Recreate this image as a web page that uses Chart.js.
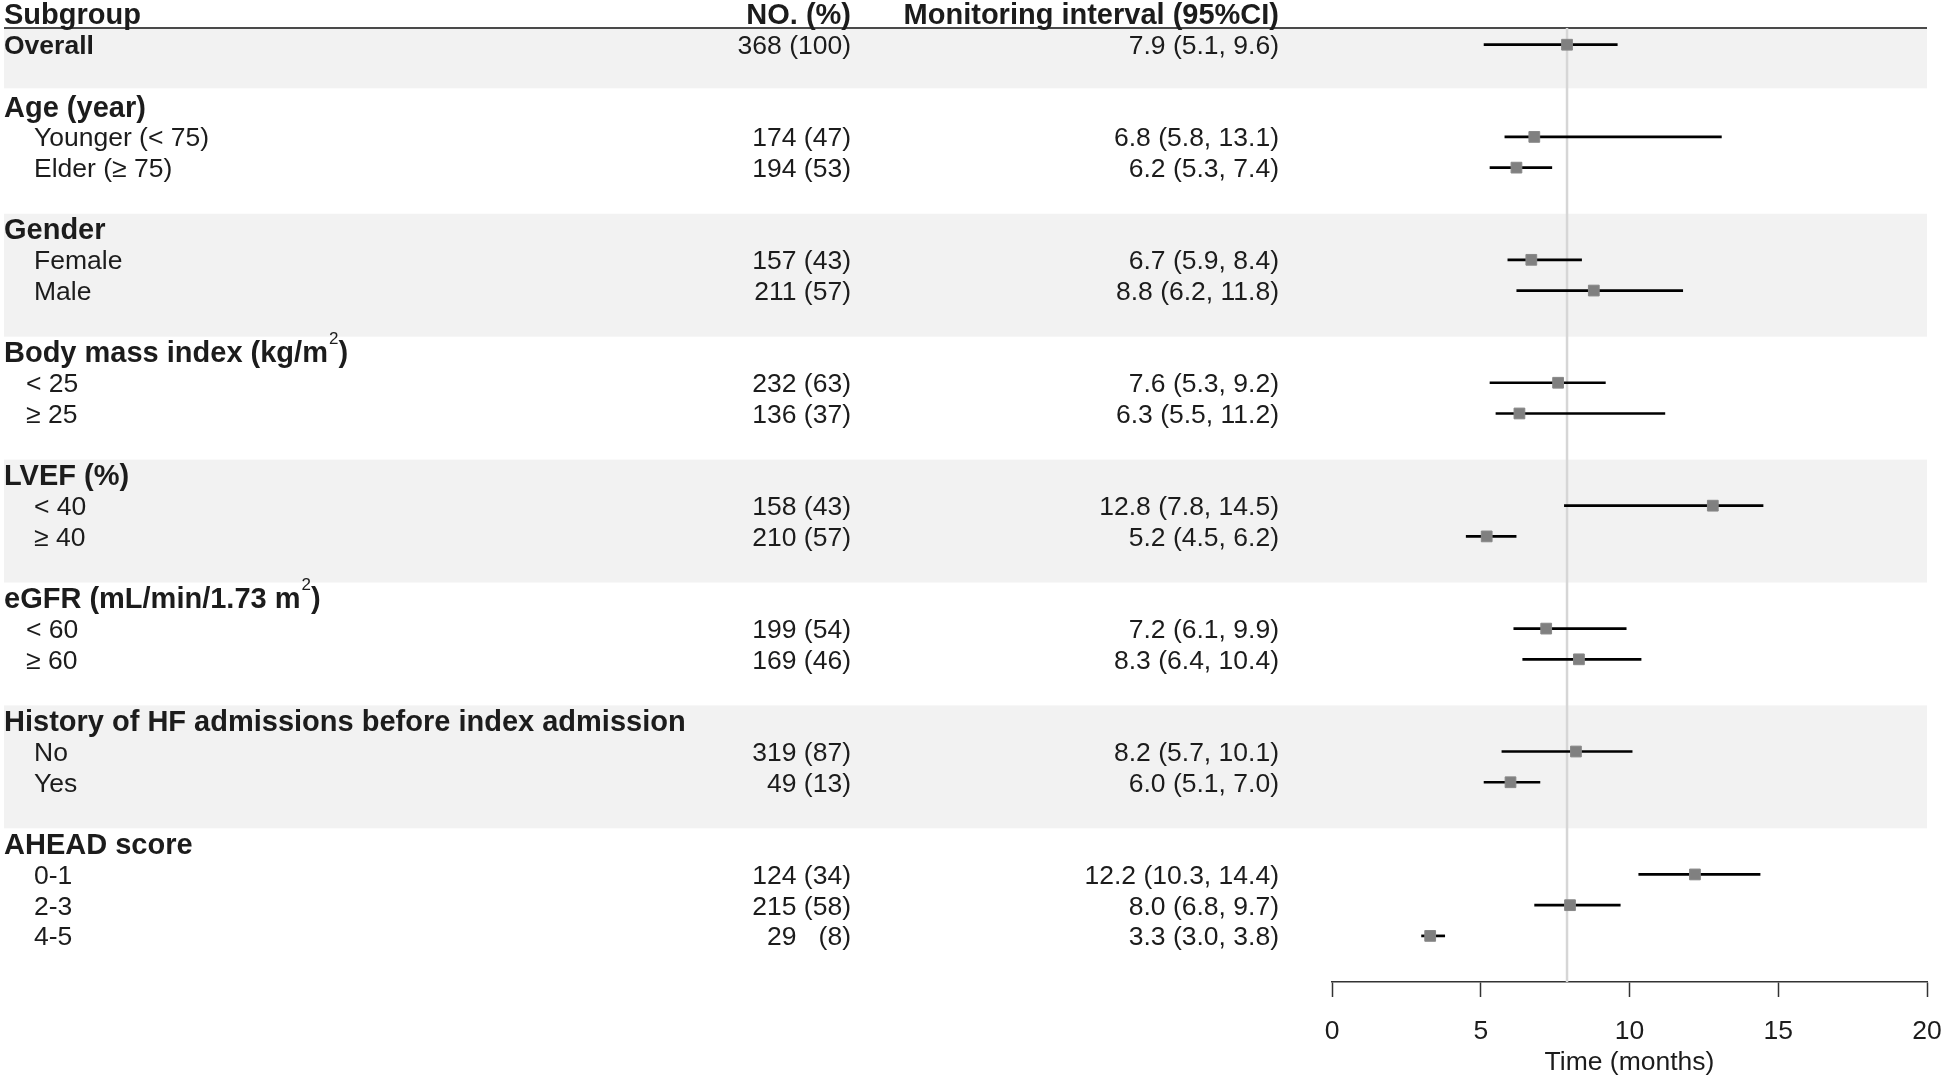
<!DOCTYPE html>
<html>
<head>
<meta charset="utf-8">
<title>Monitoring interval by subgroup</title>
<script src="https://cdn.jsdelivr.net/npm/chart.js@4.4.1/dist/chart.umd.min.js"></script>
<style>
  html, body { margin: 0; padding: 0; background: #fff; }
  #wrap { width: 1946px; height: 1080px; }
</style>
</head>
<body>
<div id="wrap"><canvas id="forest" width="1946" height="1080"></canvas></div>
<script>
// table structure: each entry sits on one row of the y scale (0 = column headers)
const columnHeaders = ['Subgroup', 'NO. (%)', 'Monitoring interval (95%CI)'];

const groupTitles = ['Age (year)', 'Gender', 'Body mass index (kg/m²)', 'LVEF (%)',
  'eGFR (mL/min/1.73 m²)', 'History of HF admissions before index admission', 'AHEAD score'];
const groupRows = [3, 7, 11, 15, 19, 23, 27];

const subgroups = ['Overall', 'Younger (< 75)', 'Elder (≥ 75)', 'Female', 'Male',
  '< 25', '≥ 25', '< 40', '≥ 40', '< 60', '≥ 60', 'No', 'Yes', '0-1', '2-3', '4-5'];
const subgroupRows = [1, 4, 5, 8, 9, 12, 13, 16, 17, 20, 21, 24, 25, 28, 29, 30];

const counts = ['368 (100)', '174 (47)', '194 (53)', '157 (43)', '211 (57)', '232 (63)', '136 (37)',
  '158 (43)', '210 (57)', '199 (54)', '169 (46)', '319 (87)', '49 (13)', '124 (34)', '215 (58)', '29   (8)'];

// monitoring interval in months, with 95% CI
const estimates = [7.9, 6.8, 6.2, 6.7, 8.8, 7.6, 6.3, 12.8, 5.2, 7.2, 8.3, 8.2, 6.0, 12.2, 8.0, 3.3];
const lower     = [5.1, 5.8, 5.3, 5.9, 6.2, 5.3, 5.5, 7.8, 4.5, 6.1, 6.4, 5.7, 5.1, 10.3, 6.8, 3.0];
const upper     = [9.6, 13.1, 7.4, 8.4, 11.8, 9.2, 11.2, 14.5, 6.2, 9.9, 10.4, 10.1, 7.0, 14.4, 9.7, 3.8];

const xTicks = [0, 5, 10, 15, 20];

const FONT = "'Liberation Sans', Arial, Helvetica, sans-serif";
const INK = '#1c1c1c';
const HEAD = 29, BODY = 26.5;
const yTop = -0.455, yBottom = 31.5, ruleRow = 0.46;

// BMI and eGFR sub-rows are indented a little less in the original
const shortIndent = new Set([5, 6, 9, 10]);

function intervalText(i) {
  return estimates[i].toFixed(1) + ' (' + lower[i].toFixed(1) + ', ' + upper[i].toFixed(1) + ')';
}

// writes text, raising any "²" as a small superscript 2
function drawLabel(ctx, text, x, base, size, bold) {
  const parts = text.split('²');
  let cx = x;
  parts.forEach(function(p, i) {
    ctx.font = (bold ? 'bold ' : '') + size + 'px ' + FONT;
    ctx.fillText(p, cx, base);
    cx += ctx.measureText(p).width;
    if (i < parts.length - 1) {
      ctx.font = '17px ' + FONT;
      ctx.fillText('2', cx + 1, base - 18);
      cx += ctx.measureText('2').width + 1;
    }
  });
}

const tablePlugin = {
  id: 'forestTable',
  beforeDatasetsDraw(chart) {
    const ctx = chart.ctx, x = chart.scales.x, y = chart.scales.y;
    const left = 4, right = x.getPixelForValue(xTicks[xTicks.length - 1]);
    // grey bands: overall + every other group
    const starts = [ruleRow].concat(groupRows.map(r => r - 0.5));
    const ends = groupRows.map(r => r - 0.5).concat([yBottom]);
    ctx.save();
    ctx.fillStyle = '#f2f2f2';
    starts.forEach(function(s, i) {
      if (i % 2 !== 0) return;
      const top = y.getPixelForValue(s), bot = y.getPixelForValue(i === 0 ? 2.42 : ends[i]);
      ctx.fillRect(left, top, right - left, bot - top);
    });
    ctx.strokeStyle = '#4a4a4a';
    ctx.lineWidth = 2;
    const ry = y.getPixelForValue(ruleRow);
    ctx.beginPath();
    ctx.moveTo(left, ry);
    ctx.lineTo(right, ry);
    ctx.stroke();
    ctx.restore();
  },
  afterDatasetsDraw(chart) {
    const ctx = chart.ctx, y = chart.scales.y;
    const noRight = 851, ciRight = 1279;
    ctx.save();
    ctx.fillStyle = INK;
    ctx.textBaseline = 'alphabetic';

    // column headers
    let base = y.getPixelForValue(0) + HEAD * 0.358;
    ctx.textAlign = 'left';
    drawLabel(ctx, columnHeaders[0], 4, base, HEAD, true);
    ctx.textAlign = 'right';
    ctx.font = 'bold ' + HEAD + 'px ' + FONT;
    ctx.fillText(columnHeaders[1], noRight, base);
    ctx.fillText(columnHeaders[2], ciRight, base);

    // group titles
    ctx.textAlign = 'left';
    groupTitles.forEach(function(t, i) {
      drawLabel(ctx, t, 4, y.getPixelForValue(groupRows[i]) + HEAD * 0.358, HEAD, true);
    });

    // subgroup rows
    subgroups.forEach(function(s, i) {
      const b = y.getPixelForValue(subgroupRows[i]) + BODY * 0.358;
      ctx.textAlign = 'left';
      if (i === 0) {
        drawLabel(ctx, s, 4, b, BODY, true);
      } else {
        drawLabel(ctx, s, shortIndent.has(i) ? 26 : 34, b, BODY, false);
      }
      ctx.textAlign = 'right';
      ctx.font = BODY + 'px ' + FONT;
      ctx.fillText(counts[i], noRight, b);
      ctx.fillText(intervalText(i), ciRight, b);
    });
    ctx.restore();
  }
};

document.addEventListener('DOMContentLoaded', function() {
  Chart.defaults.font.family = FONT;
  Chart.defaults.color = INK;

  const ciLines = subgroups.map(function(name, i) {
    return {
      label: name,
      data: [{x: lower[i], y: subgroupRows[i]}, {x: upper[i], y: subgroupRows[i]}],
      showLine: true,
      borderColor: '#000',
      borderWidth: 2.7,
      pointRadius: 0,
      order: 1
    };
  });

  const points = {
    label: 'Estimate',
    data: estimates.map((v, i) => ({x: v, y: subgroupRows[i]})),
    pointStyle: 'rect',
    pointRadius: 7.6,
    backgroundColor: '#808080',
    borderColor: '#888',
    borderWidth: 1,
    showLine: false,
    order: 0
  };

  const refLine = {
    label: 'Overall',
    data: [{x: estimates[0], y: ruleRow}, {x: estimates[0], y: yBottom}],
    showLine: true,
    borderColor: '#d6d6d6',
    borderWidth: 2.5,
    pointRadius: 0,
    order: 2
  };

  new Chart(document.getElementById('forest'), {
    type: 'scatter',
    data: { datasets: [points].concat(ciLines, [refLine]) },
    options: {
      responsive: false,
      devicePixelRatio: 1,
      animation: false,
      layout: { autoPadding: false, padding: { left: 1332, right: 19, top: 0, bottom: 1.6 } },
      plugins: { legend: { display: false }, tooltip: { enabled: false } },
      scales: {
        x: {
          type: 'linear',
          min: xTicks[0],
          max: xTicks[xTicks.length - 1],
          afterBuildTicks: function(scale) { scale.ticks = xTicks.map(v => ({value: v})); },
          afterFit: function(scale) {
            scale.height = 96.4;
            scale.paddingLeft = 0;
            scale.paddingRight = 0;
          },
          ticks: { font: { size: BODY }, padding: 19, color: INK, maxRotation: 0 },
          grid: { drawOnChartArea: false, drawTicks: true, tickLength: 15, tickColor: '#333', tickWidth: 1.5 },
          border: { display: true, color: '#333', width: 1.5 },
          title: { display: true, text: 'Time (months)', font: { size: BODY }, color: INK, padding: { top: 2, bottom: 0 } }
        },
        y: {
          type: 'linear',
          display: false,
          reverse: true,
          min: yTop,
          max: yBottom
        }
      }
    },
    plugins: [tablePlugin]
  });
});
</script>
</body>
</html>
